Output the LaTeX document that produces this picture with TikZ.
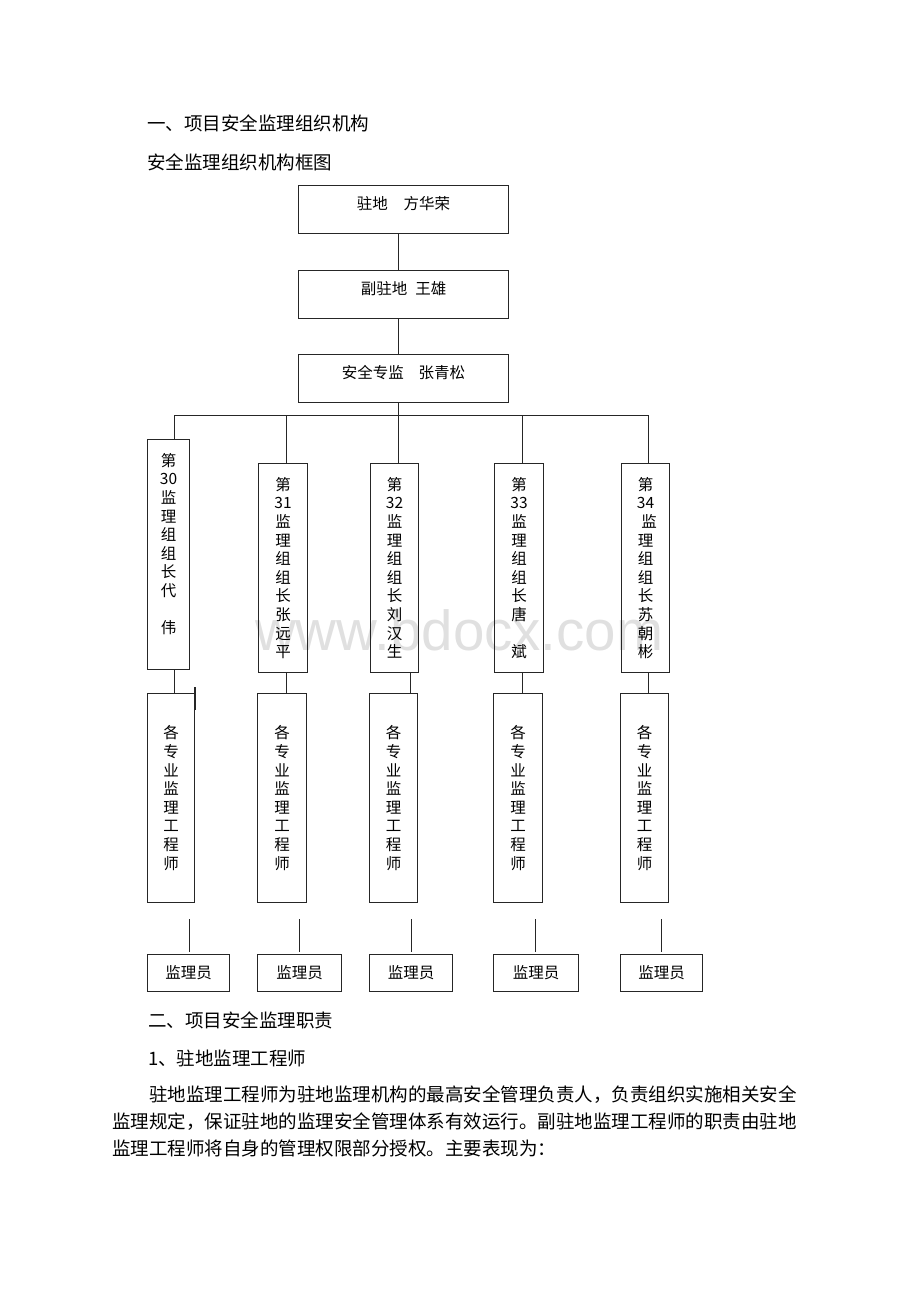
\documentclass[tikz,border=0pt]{standalone}
\usepackage{fontspec}
\setmainfont{Noto Sans CJK SC}
\newfontfamily\wmfont{Liberation Sans}
\usetikzlibrary{positioning}

\begin{document}
\begin{tikzpicture}[x=1pt, y=-1pt,
    box/.style={draw=black!85, line width=1pt, inner sep=0pt, anchor=north west},
    link/.style={draw=black!85, -, line width=1pt},
    vtext/.style={align=center, inner sep=0pt, font=\fontsize{15.5}{18.6}\selectfont},
    htext/.style={inner sep=0pt, font=\fontsize{15.5}{18.6}\selectfont},
    head/.style={anchor=west, inner sep=0pt, font=\fontsize{18.5}{18.5}\selectfont},
    body/.style={anchor=west, inner sep=0pt, font=\fontsize{18.5}{18.5}\selectfont}]
  \useasboundingbox (0,0) rectangle (920,1302);

  % watermark of the scan
  \node[anchor=base west, inner sep=0pt, text=black!12,
        font=\wmfont\fontsize{56.5}{56.5}\selectfont] (watermark) at (255,650) {www.bdocx.com};

  \node[head] (title1) at (147,123) {一、项目安全监理组织机构};
  \node[head] (title2) at (147,162) {安全监理组织机构框图};

  \def \Heads{
    resident/185/{驻地\hspace{16pt}方华荣},
    deputy/270/{副驻地\hspace{8pt}王雄},
    safety/354/{安全专监\hspace{15pt}张青松}}
  \def \Leaders{
    30/147/42/439/230/174/174/{第\\30\\监\\理\\组\\组\\长\\代\\\mbox{}\\伟},
    31/258/49/463/209/286/286/{第\\31\\监\\理\\组\\组\\长\\张\\远\\平},
    32/370/48/463/209/398/410/{第\\32\\监\\理\\组\\组\\长\\刘\\汉\\生},
    33/494/49/463/209/522/522/{第\\33\\监\\理\\组\\组\\长\\唐\\\mbox{}\\斌},
    34/621/48/463/209/648/648/{第\\34\\\hspace{7pt}监\\理\\组\\组\\长\\苏\\朝\\彬}}
  \def \Engineers{
    30/147/47,
    31/257/49,
    32/369/48,
    33/493/49,
    34/620/48}
  \def \Staff{
    30/147/82/189,
    31/257/84/299,
    32/369/83/411,
    33/493/85/535,
    34/620/82/661}

  \foreach \name / \y / \txt in \Heads{
    \node[box, minimum width=210pt, minimum height=48pt] (\name) at (298,\y) {};
    \node[htext, below=11pt of \name.north] (\name-txt) {\txt};
  }
  \coordinate (spine) at (398,415);
  \path[link] (resident.south -| spine) -- (deputy.north -| spine);
  \path[link] (deputy.south -| spine) -- (safety.north -| spine);
  \path[link] (safety.south -| spine) -- (spine);

  \foreach \id / \x / \w / \y / \h / \bx / \lx / \txt in \Leaders{
    \coordinate (bar\id) at (\bx,415);
    \coordinate (tap\id) at (\lx,693);
    \node[box, minimum width=\w pt, minimum height=\h pt] (lead\id) at (\x,\y) {};
    \node[vtext, below=14pt of lead\id.north] (lead\id-txt) {\txt};
    \path[link] (bar\id) -- (lead\id.north -| bar\id);
    \path[link] (lead\id.south -| tap\id) -- (tap\id);
  }
  \path[link] (bar30) -- (bar34);

  \foreach \id / \x / \w in \Engineers{
    \node[box, vtext, inner sep=0pt, minimum width=\w pt, minimum height=209pt]
      (eng\id) at (\x,693) {各\\专\\业\\监\\理\\工\\程\\师};
  }
  \path[link, line width=2pt] ([yshift=6pt]eng30.north east) -- ([yshift=-17pt]eng30.north east);

  \foreach \id / \x / \w / \sx in \Staff{
    \node[box, htext, minimum width=\w pt, minimum height=37pt] (staff\id) at (\x,954) {监理员};
    \coordinate (stub\id) at (\sx,919);
    \path[link, shorten >=2pt] (stub\id) -- (stub\id |- staff\id.north);
  }

  \node[head] (title3) at (148,1020) {二、项目安全监理职责};
  \node[head] (title4) at (148,1058) {1、驻地监理工程师};
  \node[body] (para1) at (149,1095) {驻地监理工程师为驻地监理机构的最高安全管理负责人，负责组织实施相关安全};
  \node[body] (para2) at (112,1122) {监理规定，保证驻地的监理安全管理体系有效运行。副驻地监理工程师的职责由驻地};
  \node[body] (para3) at (112,1148) {监理工程师将自身的管理权限部分授权。主要表现为：};
\end{tikzpicture}
\end{document}
